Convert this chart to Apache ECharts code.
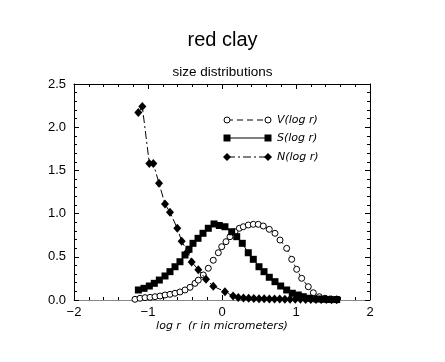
<!DOCTYPE html>
<html><head><meta charset="utf-8">
<script src="https://cdn.jsdelivr.net/npm/echarts@6/dist/echarts.min.js"></script>
<style>html,body{margin:0;padding:0;background:#fff}#c{width:445px;height:362px}</style>
</head><body><div id="c"></div>
<script>
// Axis ticks
const xTicks = [-2, -1, 0, 1, 2];
const yTicks = [0.0, 0.5, 1.0, 1.5, 2.0, 2.5];

// V(log r)  open circles
const vX = [-1.176,-1.108,-1.04,-0.973,-0.905,-0.838,-0.77,-0.703,-0.635,-0.568,-0.5,-0.432,-0.365,-0.32,-0.253,-0.185,-0.118,-0.05,-0.004,0.054,0.108,0.176,0.234,0.288,0.355,0.423,0.49,0.558,0.639,0.716,0.784,0.874,0.942,1.009,1.077,1.166,1.234,1.315,1.392,1.46,1.55];
const vY = [0.008,0.02,0.027,0.031,0.038,0.046,0.058,0.066,0.078,0.093,0.116,0.147,0.193,0.23,0.29,0.367,0.46,0.547,0.617,0.675,0.733,0.79,0.83,0.848,0.868,0.876,0.876,0.856,0.818,0.772,0.694,0.598,0.471,0.355,0.251,0.154,0.084,0.038,0.02,0.012,0.008];

// S(log r)  filled squares
const sX = [-1.13,-1.054,-0.982,-0.915,-0.847,-0.77,-0.703,-0.635,-0.568,-0.5,-0.446,-0.392,-0.324,-0.257,-0.185,-0.108,-0.036,0.04,0.131,0.199,0.274,0.355,0.423,0.5,0.568,0.639,0.716,0.793,0.874,0.95,1.031,1.099,1.189,1.28,1.369,1.46,1.55];
const sY = [0.116,0.135,0.162,0.193,0.231,0.278,0.328,0.385,0.443,0.521,0.587,0.656,0.714,0.772,0.83,0.88,0.862,0.848,0.79,0.733,0.656,0.547,0.471,0.385,0.328,0.263,0.212,0.162,0.116,0.078,0.058,0.038,0.02,0.012,0.008,0.006,0.005];

// N(log r)  filled diamonds
const nX = [-1.131,-1.077,-0.982,-0.928,-0.851,-0.77,-0.703,-0.604,-0.545,-0.464,-0.41,-0.32,-0.216,-0.118,0.04,0.15,0.22,0.29,0.36,0.43,0.5,0.57,0.64,0.71,0.78,0.85,0.92,0.99,1.06,1.13,1.2,1.27,1.34,1.41,1.48,1.55];
const nY = [2.17,2.24,1.58,1.58,1.35,1.11,1.015,0.83,0.68,0.56,0.44,0.35,0.24,0.16,0.096,0.045,0.028,0.022,0.019,0.017,0.015,0.014,0.013,0.012,0.011,0.01,0.009,0.008,0.008,0.007,0.006,0.006,0.005,0.005,0.004,0.004];

const legendNames = ['V(log r)', 'S(log r)', 'N(log r)'];

const pairs = (xs, ys) => xs.map((x, i) => [x, ys[i]]);
const minus = v => (v < 0 ? '\u2212' + Math.abs(v) : String(v));

const chart = echarts.init(document.getElementById('c'), null, {renderer: 'canvas'});
const FONT = 'Liberation Sans, Arial, Helvetica, sans-serif';
const mkTicks = (lineColor) => ({
  axisLine: {show: true, onZero: false, lineStyle: {color: lineColor, width: 1}},
  axisTick: {show: true, inside: true, length: 5, lineStyle: {color: '#000'}},
  minorTick: {show: true, splitNumber: 5, length: 3, lineStyle: {color: '#000'}},
  splitLine: {show: false},
  minorSplitLine: {show: false}
});

const dashV = [6, 4];
const dashN = [8, 3, 2, 3];

// legend graphic
const lg = [];
const lgY = [120, 138, 157];
const lgStyles = [
  {dash: dashV, sym: 'circle'},
  {dash: null, sym: 'square'},
  {dash: dashN, sym: 'diamond'}
];
lgY.forEach((y, i) => {
  lg.push({type: 'line', shape: {x1: 227, y1: y, x2: 268, y2: y},
    style: {stroke: '#000', lineWidth: 1, lineDash: lgStyles[i].dash}, z: 100});
  [227, 268].forEach(x => {
    if (lgStyles[i].sym === 'circle') {
      lg.push({type: 'circle', shape: {cx: x, cy: y, r: 3}, style: {fill: '#fff', stroke: '#000', lineWidth: 1}, z: 101});
    } else if (lgStyles[i].sym === 'square') {
      lg.push({type: 'rect', shape: {x: x - 3.5, y: y - 3.5, width: 7, height: 7}, style: {fill: '#000'}, z: 101});
    } else {
      lg.push({type: 'polygon', shape: {points: [[x, y - 4], [x + 4, y], [x, y + 4], [x - 4, y]]}, style: {fill: '#000'}, z: 101});
    }
  });
  lg.push({type: 'text', x: 277, y: y, style: {text: legendNames[i], font: 'italic 11px DejaVu Sans, sans-serif', fill: '#000', verticalAlign: 'middle', textAlign: 'left'}, z: 101});
});
// x-axis name
lg.push({type: 'text', x: 222, y: 326, style: {text: 'log r  (r in micrometers)', font: 'italic 11px DejaVu Sans, sans-serif', fill: '#000', verticalAlign: 'middle', textAlign: 'center'}});

chart.setOption({
  animation: false,
  backgroundColor: '#fff',
  title: [
    {text: 'red clay', left: 'center', top: 25, textStyle: {fontFamily: FONT, fontSize: 20, fontWeight: 'normal', color: '#000'}},
    {text: 'size distributions', left: 'center', top: 60, textStyle: {fontFamily: FONT, fontSize: 13.5, fontWeight: 'normal', color: '#000'}}
  ],
  grid: {left: 74, right: 75, top: 84, bottom: 62, containLabel: false},
  xAxis: [
    Object.assign({type: 'value', min: xTicks[0], max: xTicks[xTicks.length - 1], interval: 1, position: 'bottom',
      axisLabel: {formatter: minus, fontFamily: FONT, fontSize: 13, color: '#000', margin: 6}}, mkTicks('#888')),
    Object.assign({type: 'value', min: xTicks[0], max: xTicks[xTicks.length - 1], interval: 1, position: 'top',
      axisLabel: {show: false}}, mkTicks('#000'))
  ],
  yAxis: [
    Object.assign({type: 'value', min: yTicks[0], max: yTicks[yTicks.length - 1], interval: 0.5, position: 'left',
      axisLabel: {formatter: v => v.toFixed(1), fontFamily: FONT, fontSize: 13, color: '#000', margin: 8}}, mkTicks('#000')),
    Object.assign({type: 'value', min: yTicks[0], max: yTicks[yTicks.length - 1], interval: 0.5, position: 'right',
      axisLabel: {show: false}}, mkTicks('#000'))
  ],
  graphic: lg,
  series: [
    {name: legendNames[0], type: 'line', data: pairs(vX, vY), symbol: 'circle', symbolSize: 6, showAllSymbol: true,
      lineStyle: {color: '#000', width: 1, type: dashV}, itemStyle: {color: '#fff', borderColor: '#000', borderWidth: 1}, z: 3},
    {name: legendNames[1], type: 'line', data: pairs(sX, sY), symbol: 'rect', symbolSize: 7, showAllSymbol: true,
      lineStyle: {color: '#000', width: 1}, itemStyle: {color: '#000'}, z: 4},
    {name: legendNames[2], type: 'line', data: pairs(nX, nY), symbol: 'diamond', symbolSize: [8, 9], showAllSymbol: true,
      lineStyle: {color: '#000', width: 1, type: dashN}, itemStyle: {color: '#000'}, z: 5}
  ]
});
</script></body></html>
